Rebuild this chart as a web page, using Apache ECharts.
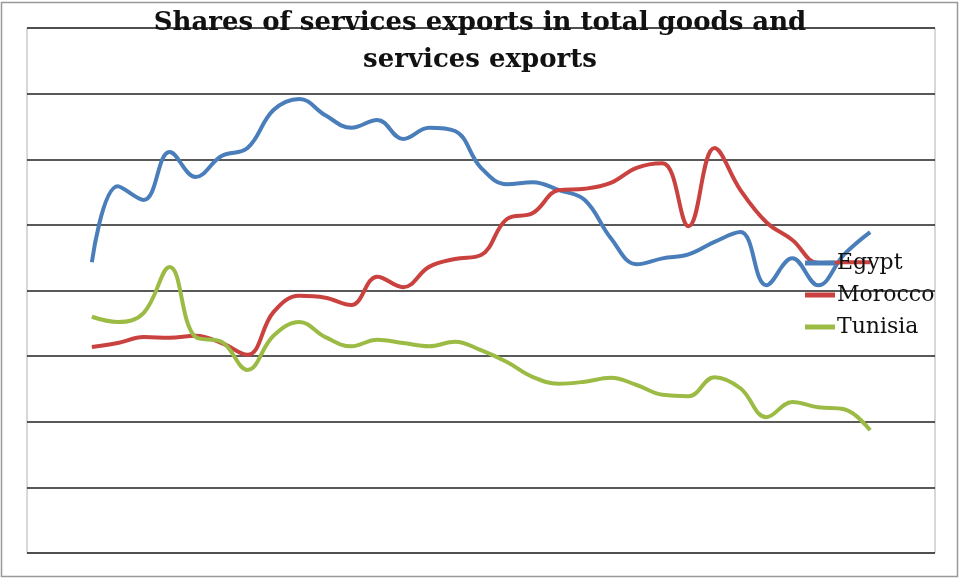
<!DOCTYPE html>
<html>
<head>
<meta charset="utf-8">
<script src="https://cdn.jsdelivr.net/npm/echarts@6/dist/echarts.min.js"></script>
<style>
html,body{margin:0;padding:0;background:#fff;}
#chart{width:960px;height:579px;}
</style>
</head>
<body>
<div id="chart"></div>
<script>
// Categories (years, unlabeled in the original)
const years = [];
for (let y = 1976; y <= 2010; y++) years.push(String(y));

// Shares (%); null where no data
const egypt = [null, null,
  44.3, 55.9, 53.8, 61.1, 57.3, 60.5, 61.7, 67.5, 69.2, 66.7,
  64.8, 66.0, 63.1, 64.8, 64.3, 58.7, 56.2, 56.5, 55.3, 53.8,
  48.0, 44.0, 44.9, 45.5, 47.4, 48.9, 40.8, 44.9, 40.8, 45.5,
  48.9, null, null];
const morocco = [null, null,
  31.4, 32.0, 32.9, 32.8, 33.1, 32.0, 30.2, 36.7, 39.2, 38.9,
  37.8, 42.1, 40.5, 43.6, 44.8, 45.4, 50.9, 51.8, 55.3, 55.5,
  56.4, 58.7, 59.4, 49.8, 61.7, 55.3, 50.4, 47.7, 44.2, 44.3,
  44.3, null, null];
const tunisia = [null, null,
  36.0, 35.2, 36.6, 43.6, 32.9, 32.2, 27.9, 33.1, 35.2, 32.9,
  31.5, 32.5, 32.0, 31.5, 32.2, 30.9, 29.1, 26.8, 25.8, 26.1,
  26.7, 25.6, 24.1, 23.9, 26.8, 25.1, 20.7, 23.0, 22.2, 21.9,
  18.7, null, null];

const chart = echarts.init(document.getElementById('chart'));
const mk = (name, data, color) => ({
  name, type: 'line', data, smooth: 0.4, symbol: 'none',
  lineStyle: { color, width: 4 }, itemStyle: { color }
});
chart.setOption({
  animation: false,
  backgroundColor: '#fff',
  title: {
    text: 'Shares of services exports in total goods and\nservices exports',
    left: 'center', top: 0,
    textStyle: { fontFamily: 'DejaVu Serif', fontWeight: 'bold', fontSize: 26, lineHeight: 37, color: '#111' }
  },
  legend: {
    orient: 'vertical', left: 805, top: 252, itemGap: 10, padding: 0,
    icon: 'rect', itemWidth: 30, itemHeight: 5,
    textStyle: { fontFamily: 'DejaVu Serif', fontSize: 22, lineHeight: 22, color: '#111', padding: [0,0,0,-3] },
    data: ['Egypt', 'Morocco', 'Tunisia']
  },
  grid: { left: 27, right: 25, top: 28, bottom: 26, show: true, borderColor: '#b0b0b0', borderWidth: 1 },
  xAxis: {
    type: 'category', data: years, boundaryGap: true,
    axisLine: { show: false }, axisTick: { show: false }, axisLabel: { show: false }
  },
  yAxis: {
    type: 'value', min: 0, max: 80, interval: 10,
    axisLine: { show: false }, axisTick: { show: false }, axisLabel: { show: false },
    splitLine: { show: true, lineStyle: { color: '#222', width: 1.5 } }
  },
  graphic: [{
    type: 'rect', shape: { x: 1.5, y: 2.5, width: 956, height: 574 },
    style: { fill: 'none', stroke: '#999', lineWidth: 1.5 }, silent: true
  }],
  series: [
    mk('Egypt', egypt, '#4a7ebb'),
    mk('Morocco', morocco, '#c9423f'),
    mk('Tunisia', tunisia, '#9bbb45')
  ]
});
</script>
</body>
</html>
